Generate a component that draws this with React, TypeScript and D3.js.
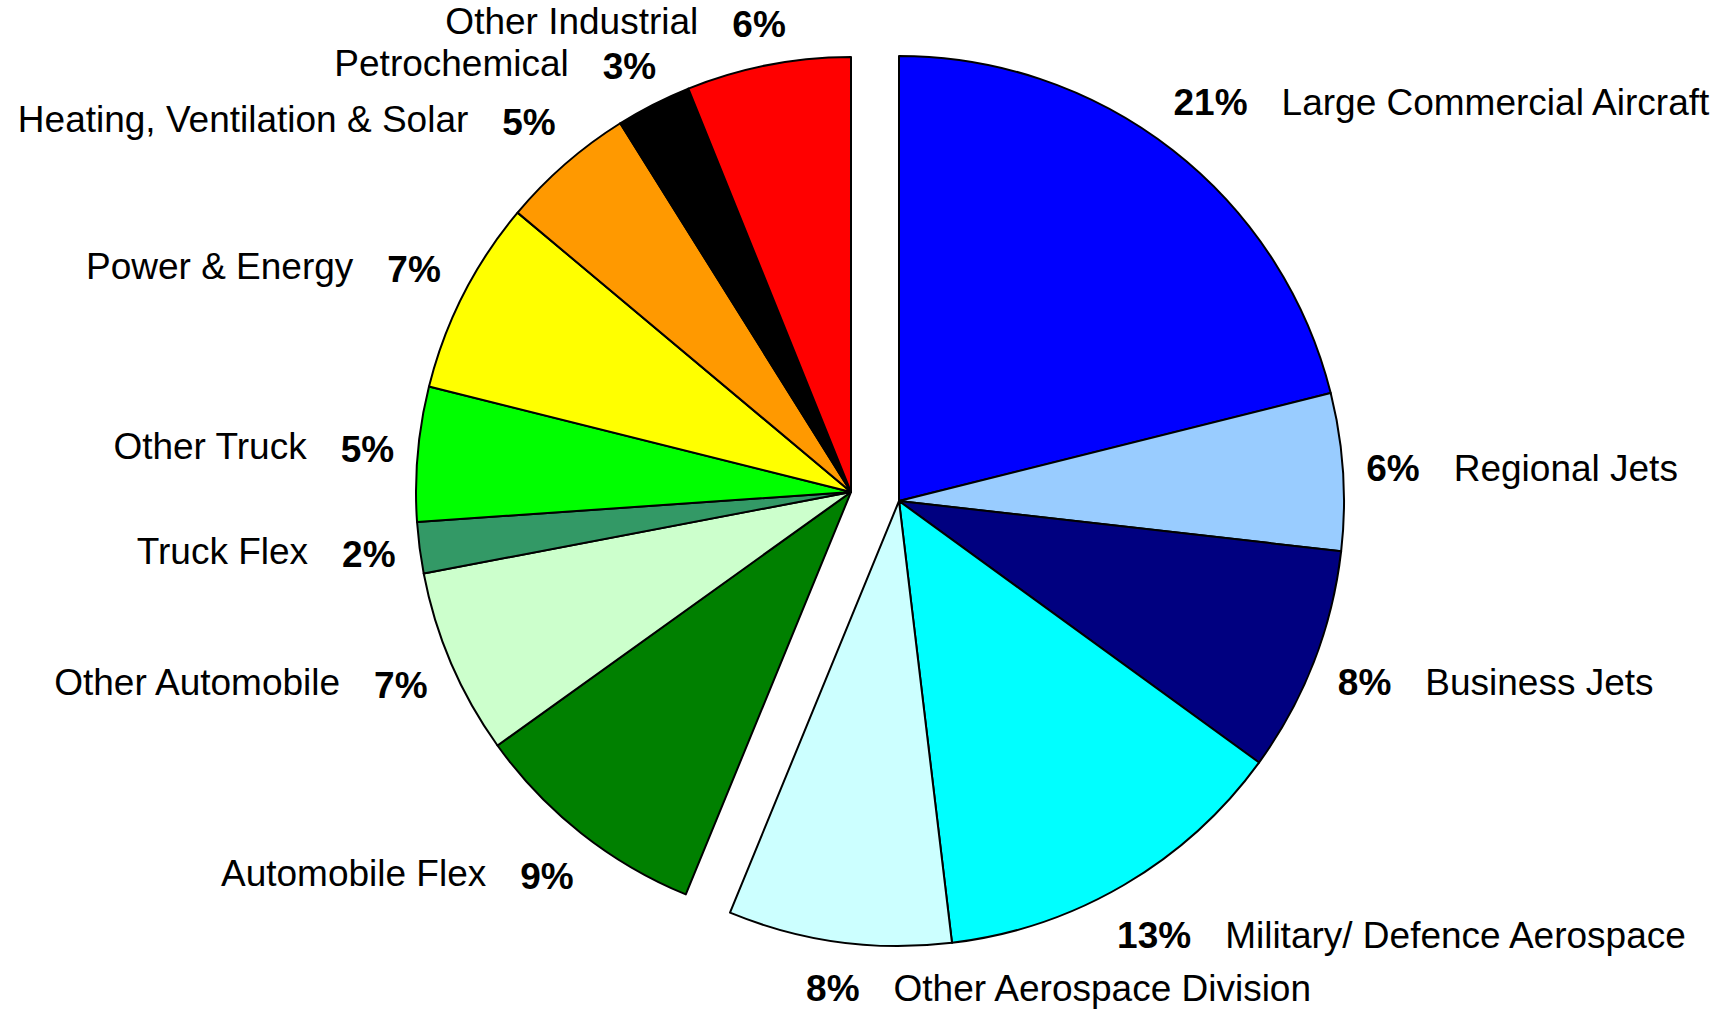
import React, { useEffect, useRef } from "react";
import * as d3 from "d3";

// slice names, clockwise from 12 o'clock
const categories = [
  "Large Commercial Aircraft",
  "Regional Jets",
  "Business Jets",
  "Military/ Defence Aerospace",
  "Other Aerospace Division",
  "Automobile Flex",
  "Other Automobile",
  "Truck Flex",
  "Other Truck",
  "Power & Energy",
  "Heating, Ventilation & Solar",
  "Petrochemical",
  "Other Industrial",
];

// share of sales, percent
const shares = [21.1, 5.7, 8.2, 13.1, 8.1, 8.9, 6.9, 1.9, 5.0, 7.2, 5.0, 2.8, 6.1];

// the aerospace division is pulled out of the pie
const divisions = [
  "aero", "aero", "aero", "aero", "aero",
  "other", "other", "other", "other", "other", "other", "other", "other",
];

const colors = [
  "#0000FF", "#99CCFF", "#000080", "#00FFFF", "#CCFFFF",
  "#008000", "#CCFFCC", "#339966", "#00FF00", "#FFFF00", "#FF9900", "#000000", "#FF0000",
];

const W = 1732;
const H = 1017;
const FONT = "'Liberation Sans', Arial, Helvetica, sans-serif";
const FS = 37;

const App = () => {
  const ref = useRef<SVGSVGElement | null>(null);

  useEffect(() => {
    document.body.style.margin = "0";
    const svg = d3.select(ref.current);
    svg.selectAll("*").remove();

    // centre and radius of each part of the pie
    const parts: Record<string, { cx: number; cy: number; r: number }> = {
      aero: { cx: 899, cy: 501, r: 445 },
      other: { cx: 851, cy: 492, r: 435 },
    };

    const data = categories.map((name, i) => ({
      name,
      value: shares[i],
      division: divisions[i],
      color: colors[i],
    }));

    const pie = d3
      .pie<any>()
      .sort(null)
      .value((d) => d.value);

    const arcs = pie(data);

    const g = svg.append("g");

    arcs.forEach((a) => {
      const p = parts[a.data.division];
      const arc = d3.arc<any>().innerRadius(0).outerRadius(p.r);
      g.append("path")
        .attr("transform", `translate(${p.cx},${p.cy})`)
        .attr("d", arc(a))
        .attr("fill", a.data.color)
        .attr("stroke", "#000")
        .attr("stroke-width", 2)
        .attr("stroke-linejoin", "round");
    });

    // labels: bold percentage just outside the rim, name beside it
    const gap = 34;
    const halfH = 21;
    const labels = arcs.map((a) => {
      const p = parts[a.data.division];
      const mid = (a.startAngle + a.endAngle) / 2;
      const sx = Math.sin(mid);
      const sy = -Math.cos(mid);
      const pctW = (String(Math.round(a.data.value)).length * 0.556 + 0.889) * FS;
      const dist = p.r + 22 + (pctW / 2) * Math.abs(sx) + halfH * Math.abs(sy);
      return {
        a,
        pct: Math.round(a.data.value) + "%",
        pctW,
        x: p.cx + dist * sx,
        y: p.cy + dist * sy,
        right: a.data.division === "aero",
      };
    });

    // push crowded labels on the left apart, top to bottom
    const left = labels.filter((l) => !l.right).sort((u, v) => u.y - v.y);
    let prev = -Infinity;
    left.forEach((l) => {
      l.y = Math.max(l.y, 24, prev + 42);
      prev = l.y;
    });

    labels.forEach((l) => {
      g.append("text")
        .attr("x", l.x)
        .attr("y", l.y)
        .attr("dy", "0.35em")
        .attr("text-anchor", "middle")
        .attr("font-family", FONT)
        .attr("font-size", FS)
        .attr("font-weight", "bold")
        .attr("fill", "#000")
        .text(l.pct);

      g.append("text")
        .attr("x", l.right ? l.x + l.pctW / 2 + gap : l.x - l.pctW / 2 - gap)
        .attr("y", l.right ? l.y : l.y - 3)
        .attr("dy", "0.35em")
        .attr("text-anchor", l.right ? "start" : "end")
        .attr("font-family", FONT)
        .attr("font-size", FS)
        .attr("fill", "#000")
        .text(l.a.data.name);
    });
  }, []);

  return <svg ref={ref} width={W} height={H} style={{ display: "block", background: "#fff" }} />;
};

export default App;
